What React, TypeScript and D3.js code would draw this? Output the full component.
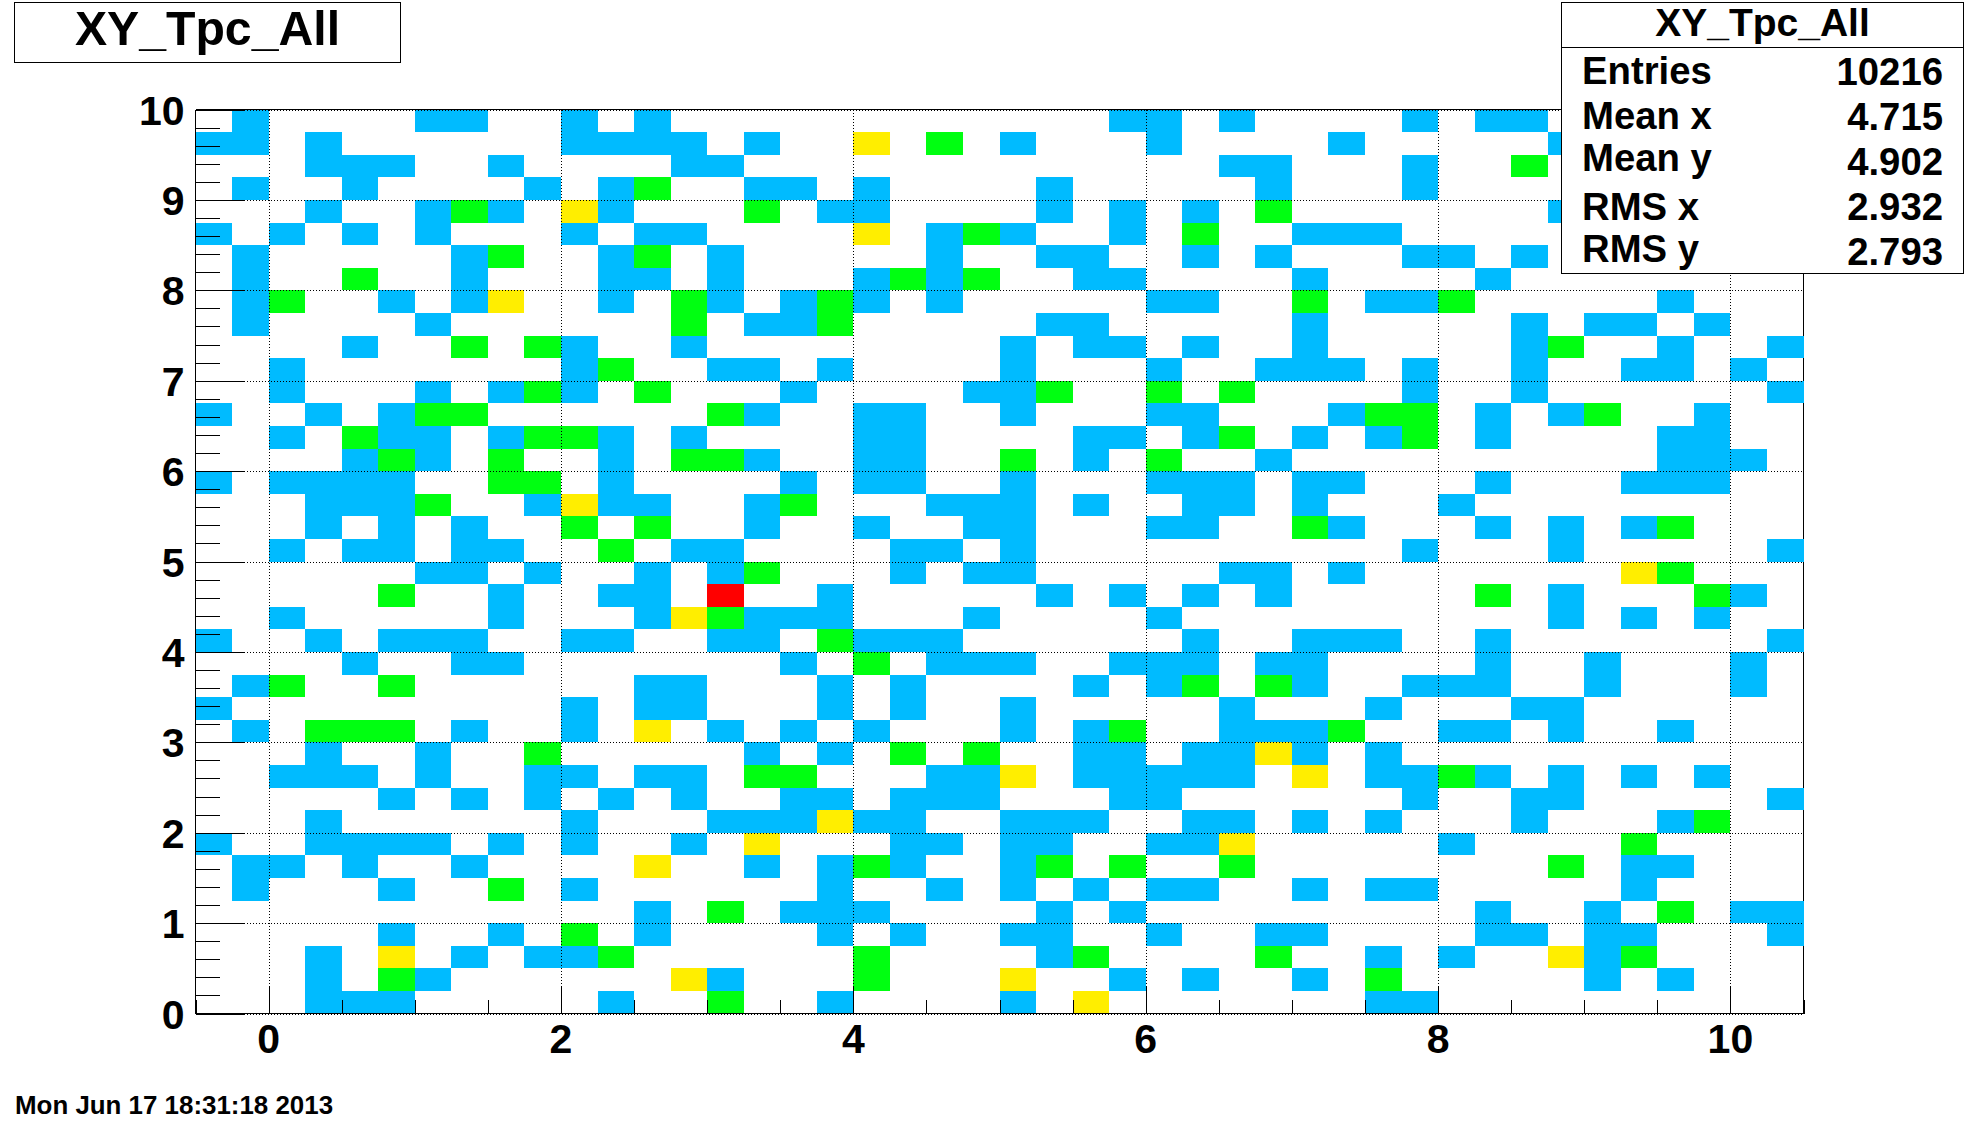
import React from "react";
import * as d3 from "d3";

// Bin layout of the histogram
const xDomain = [-0.5, 10.5];
const yDomain = [0, 10];
const binWidthX = 0.25;
const binWidthY = 0.25;

const xTickValues = [0, 2, 4, 6, 8, 10];
const yTickValues = [0, 1, 2, 3, 4, 5, 6, 7, 8, 9, 10];

// Occupied columns per row; row 0 is the top of the plot.
const level1Bins: number[][] = [
  [1,6,7,10,12,25,26,28,33,35,36],
  [0,1,3,10,11,12,13,15,22,26,31,37],
  [3,4,5,8,13,14,28,29,33],
  [1,4,9,11,15,16,18,23,29,33],
  [3,6,8,11,17,18,23,25,27,37],
  [0,2,4,6,10,12,13,20,22,25,30,31,32],
  [1,7,11,14,20,23,24,27,29,33,34,36],
  [1,7,11,12,14,18,20,24,25,30,35],
  [1,5,7,11,14,16,18,20,26,27,32,33,40],
  [1,6,15,16,23,24,30,36,38,39,41],
  [4,10,13,22,24,25,27,30,36,40,43],
  [2,10,14,15,17,22,26,29,30,31,33,36,39,40,42],
  [2,6,8,10,16,21,22,33,36,43],
  [0,3,5,15,18,19,22,26,27,31,35,37,41],
  [2,5,6,8,11,13,18,19,24,25,27,30,32,35,40,41],
  [4,6,11,15,18,19,24,29,40,41,42],
  [0,2,3,4,5,11,16,18,19,22,26,27,28,30,31,35,39,40,41],
  [3,4,5,9,11,12,15,20,21,22,24,27,28,30,34],
  [3,5,7,15,18,21,22,26,27,31,35,37,39],
  [2,4,5,7,8,13,14,19,20,22,33,37,43],
  [6,7,9,12,14,19,21,22,28,29,31],
  [8,11,12,17,23,25,27,29,37,42],
  [2,8,12,15,16,17,21,26,37,39,41],
  [0,3,5,6,7,10,11,14,15,18,19,20,27,30,31,32,35,43],
  [4,7,8,16,20,21,22,25,26,27,29,30,35,38,42],
  [1,12,13,17,19,24,26,30,33,34,35,38,42],
  [0,10,12,13,17,19,22,28,32,36,37],
  [1,7,10,14,16,18,22,24,28,29,30,34,35,37,40],
  [3,6,15,17,24,25,27,28,30,32],
  [2,3,4,6,9,10,12,13,20,21,24,25,26,27,28,32,33,35,37,39,41],
  [5,7,9,11,13,16,17,19,20,21,25,26,33,36,37,43],
  [3,10,14,15,16,18,19,22,23,24,27,28,30,32,36,40],
  [0,3,4,5,6,8,10,13,19,20,22,23,26,27,34],
  [1,2,4,7,15,17,19,22,39,40],
  [1,5,10,17,20,22,24,26,27,30,32,33,39],
  [12,16,17,18,23,25,35,38,42,43],
  [5,8,12,17,19,22,23,26,29,30,35,36,38,39,43],
  [3,7,9,10,23,32,34,38],
  [3,6,14,25,27,30,38,40],
  [3,4,5,11,17,22,32,33],
];

const level2Bins: number[][] = [
  [],[20],[36],[12],[7,15,29],[21,27],[8,12],[4,19,21],[2,13,17,30,34],[13,17],
  [7,9,37],[11],[9,12,23,26,28],[6,7,14,32,33,38],[4,9,10,28,33],[5,8,13,14,22,26],[8,9],[6,16],[10,12,30,40],[11],
  [15,40],[5,35,41],[14],[17],[18],[2,5,27,29],[],[3,4,5,25,31],[9,19,21],[15,16,34],
  [],[41],[39],[18,23,25,28,37],[8],[14,40],[10],[11,18,24,29,39],[5,18,32],[14],
];

const level3Bins: number[][] = [
  [],[18],[],[],[10],[18],[],[],[8],[],
  [],[],[],[],[],[],[],[10],[],[],
  [39],[],[13],[],[],[],[],[12],[29],[22,30],
  [],[17],[15,28],[12],[],[],[],[5,37],[13,22],[24],
];

const level4Bins: number[][] = [
  [],[],[],[],[],[],[],[],[],[],
  [],[],[],[],[],[],[],[],[],[],
  [],[14],[],[],[],[],[],[],[],[],
  [],[],[],[],[],[],[],[],[],[],
];

const levelValues = [1, 2, 3, 4];
const levelColors = ["#00BBFF", "#00FF11", "#FFEE00", "#FF0000"];

const histTitle = "XY_Tpc_All";
const statLabels = ["Entries", "Mean x", "Mean y", "RMS x", "RMS y"];
const statValues = ["10216", "4.715", "4.902", "2.932", "2.793"];
const dateStamp = "Mon Jun 17 18:31:18 2013";

const FONT = "'Liberation Sans', Arial, Helvetica, sans-serif";
const LEFT = 195.5, RIGHT = 1803.5, TOP = 109.5, BOTTOM = 1013.5;

const x = d3.scaleLinear().domain(xDomain).range([LEFT, RIGHT]);
const y = d3.scaleLinear().domain(yDomain).range([BOTTOM, TOP]);
const color = d3.scaleOrdinal<number, string>().domain(levelValues).range(levelColors);

const labelBaselines = [84, 129, 171, 220, 262];
const valueBaselines = [85, 130, 175, 220, 265];

export default function App() {
  const groups = [level1Bins, level2Bins, level3Bins, level4Bins];
  const cells: { col: number; row: number; level: number }[] = [];
  groups.forEach((rows, g) =>
    rows.forEach((cols, row) => cols.forEach((col) => cells.push({ col, row, level: levelValues[g] })))
  );
  const xMinor = d3.range(xDomain[0], xDomain[1] + 0.01, 0.5);
  const yMinor = d3.range(yDomain[0], yDomain[1] + 0.01, 0.2);

  return (
    <svg
      width={1984}
      height={1121}
      viewBox="0 0 1984 1121"
      style={{ position: "absolute", left: 0, top: 0, display: "block", background: "#fff" }}
      fontFamily={FONT}
      fontWeight="bold"
    >
      {/* frame */}
      <g stroke="#000" strokeWidth={1} shapeRendering="crispEdges" fill="none">
        <line x1={LEFT} x2={RIGHT} y1={TOP} y2={TOP} />
        <line x1={RIGHT} x2={RIGHT} y1={TOP} y2={BOTTOM} />
      </g>

      {/* bins */}
      <g shapeRendering="crispEdges">
        {cells.map((c, i) => {
          const xv = xDomain[0] + c.col * binWidthX;
          const yv = yDomain[1] - c.row * binWidthY;
          const x0 = Math.round(x(xv));
          const x1 = Math.round(x(xv + binWidthX));
          const y0 = Math.round(y(yv));
          const y1 = Math.round(y(yv - binWidthY));
          return <rect key={i} x={x0} y={y0} width={x1 - x0} height={y1 - y0} fill={color(c.level)} />;
        })}
      </g>

      {/* dotted grid */}
      <g stroke="#000" strokeWidth={1} strokeDasharray="1 2" shapeRendering="crispEdges">
        {xTickValues.map((t) => (
          <line key={t} x1={Math.round(x(t)) + 0.5} x2={Math.round(x(t)) + 0.5} y1={TOP} y2={BOTTOM} />
        ))}
        {yTickValues.map((t) => (
          <line key={t} x1={LEFT} x2={RIGHT} y1={Math.round(y(t)) + 0.5} y2={Math.round(y(t)) + 0.5} />
        ))}
      </g>

      {/* axes */}
      <g stroke="#000" strokeWidth={1} shapeRendering="crispEdges">
        <line x1={LEFT} x2={LEFT} y1={TOP} y2={BOTTOM} />
        <line x1={LEFT} x2={RIGHT} y1={BOTTOM} y2={BOTTOM} />
        {xMinor.map((t) => {
          const major = xTickValues.includes(t);
          return (
            <line key={t} x1={Math.round(x(t)) + 0.5} x2={Math.round(x(t)) + 0.5} y1={BOTTOM} y2={BOTTOM - (major ? 28 : 14)} />
          );
        })}
        {yMinor.map((t, i) => {
          const major = i % 5 === 0;
          return (
            <line key={t} x1={LEFT} x2={LEFT + (major ? 48 : 24)} y1={Math.round(y(t)) + 0.5} y2={Math.round(y(t)) + 0.5} />
          );
        })}
      </g>

      {/* tick labels */}
      <g fontSize={41} fill="#000">
        {xTickValues.map((t) => (
          <text key={t} x={x(t)} y={1053} textAnchor="middle">{t}</text>
        ))}
        {yTickValues.map((t) => (
          <text key={t} x={184.5} y={y(t) + 15} textAnchor="end">{t}</text>
        ))}
      </g>

      {/* title box */}
      <rect x={14.5} y={2.5} width={386} height={60} fill="#fff" stroke="#000" strokeWidth={1} shapeRendering="crispEdges" />
      <text x={207.5} y={45} fontSize={48.2} textAnchor="middle">{histTitle}</text>

      {/* stats box */}
      <rect x={1561.5} y={2.5} width={402} height={271} fill="#fff" stroke="#000" strokeWidth={1} shapeRendering="crispEdges" />
      <line x1={1561.5} x2={1963.5} y1={47.5} y2={47.5} stroke="#000" strokeWidth={1} shapeRendering="crispEdges" />
      <text x={1762.5} y={36} fontSize={39} textAnchor="middle">{histTitle}</text>
      <g fontSize={38.3}>
        {statLabels.map((s, i) => (
          <text key={s} x={1582} y={labelBaselines[i]}>{s}</text>
        ))}
        {statValues.map((s, i) => (
          <text key={s} x={1943} y={valueBaselines[i]} textAnchor="end">{s}</text>
        ))}
      </g>

      <text x={15} y={1114} fontSize={25.9}>{dateStamp}</text>
    </svg>
  );
}
